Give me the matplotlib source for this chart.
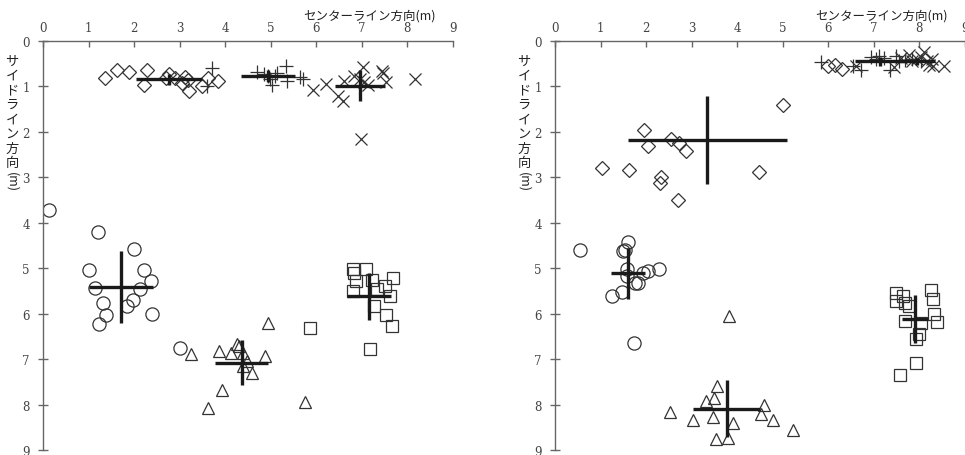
import numpy as np
import matplotlib.pyplot as plt

# 軸ラベル
x_label = 'センターライン方向(m)'
y_label_chars = ['サ', 'イ', 'ド', 'ラ', 'イ', 'ン', '方', '向']
y_label_unit = '(m)'
ticks = [0, 1, 2, 3, 4, 5, 6, 7, 8, 9]

# ---- 左図 ----
L_dia_x = [1.36, 1.63, 1.90, 2.28, 2.22, 2.70, 2.77, 2.90, 3.11, 3.06, 3.19, 3.21, 3.50, 3.62, 3.85]
L_dia_y = [0.81, 0.64, 0.69, 0.64, 0.96, 0.81, 0.73, 0.81, 0.79, 0.93, 0.86, 1.09, 0.99, 0.81, 0.89]
L_plus_x = [3.72, 3.60, 4.70, 4.85, 4.95, 4.99, 5.03, 5.10, 5.15, 5.34, 5.37, 5.65, 5.72]
L_plus_y = [0.60, 0.98, 0.68, 0.72, 0.76, 0.84, 0.97, 0.78, 0.70, 0.55, 0.88, 0.80, 0.84]
L_x_x = [5.93, 6.23, 6.49, 6.59, 6.62, 6.84, 6.97, 7.03, 7.05, 7.15, 7.44, 7.47, 7.54, 8.18, 6.98]
L_x_y = [1.07, 0.95, 1.20, 1.31, 0.87, 0.76, 0.84, 0.58, 0.91, 0.97, 0.65, 0.70, 0.91, 0.84, 2.16]
L_cir_x = [0.14, 1.20, 2.01, 1.00, 2.21, 2.37, 1.14, 2.14, 1.31, 1.97, 1.85, 1.38, 2.39, 1.24, 3.00]
L_cir_y = [3.72, 4.21, 4.58, 5.04, 5.04, 5.29, 5.43, 5.45, 5.76, 5.70, 5.84, 6.04, 6.00, 6.23, 6.75]
L_tri_x = [3.25, 3.63, 3.87, 3.94, 4.13, 4.27, 4.30, 4.39, 4.40, 4.49, 4.59, 4.89, 4.94, 5.76]
L_tri_y = [6.88, 8.07, 6.82, 7.69, 6.86, 6.67, 6.72, 6.87, 7.15, 7.04, 7.30, 6.93, 6.21, 7.94]
L_sq_x = [6.81, 6.84, 7.10, 6.88, 7.22, 7.69, 7.52, 6.81, 7.63, 7.27, 7.54, 7.67, 7.19, 7.35, 5.87]
L_sq_y = [5.02, 5.11, 5.01, 5.28, 5.26, 5.21, 5.39, 5.50, 5.62, 5.83, 6.03, 6.28, 6.78, 5.45, 6.31]
# 平均 ± 標準偏差 (◇, +, ×, ○, △, □)
L_mean_x = [2.77, 4.95, 6.97, 1.71, 4.37, 7.17]
L_mean_y = [0.84, 0.77, 0.98, 5.42, 7.08, 5.62]
L_sd_x = [0.73, 0.59, 0.55, 0.70, 0.58, 0.48]
L_sd_y = [0.12, 0.13, 0.35, 0.79, 0.49, 0.52]

# ---- 右図 ----
R_dia_x = [1.03, 1.63, 1.96, 2.05, 2.34, 2.31, 2.54, 2.72, 2.89, 2.71, 4.48, 5.02, 6.01, 6.15, 6.30]
R_dia_y = [2.80, 2.83, 1.95, 2.31, 3.00, 3.13, 2.16, 2.25, 2.42, 3.50, 2.89, 1.41, 0.56, 0.53, 0.62]
R_plus_x = [5.84, 6.55, 6.72, 6.95, 7.05, 7.12, 7.22, 7.36, 7.50, 7.55, 7.70, 7.85, 8.05]
R_plus_y = [0.46, 0.55, 0.63, 0.35, 0.40, 0.33, 0.38, 0.63, 0.32, 0.45, 0.42, 0.40, 0.45]
R_x_x = [6.62, 7.44, 7.60, 7.78, 7.85, 7.95, 8.05, 8.10, 8.18, 8.22, 8.28, 8.31, 8.55]
R_x_y = [0.55, 0.58, 0.38, 0.30, 0.45, 0.40, 0.35, 0.25, 0.45, 0.52, 0.40, 0.55, 0.54]
R_cir_x = [0.56, 1.61, 1.50, 1.53, 1.58, 1.58, 1.93, 2.04, 2.29, 1.76, 1.83, 1.48, 1.25, 1.74]
R_cir_y = [4.60, 4.42, 4.62, 4.60, 5.01, 5.18, 5.10, 5.06, 5.02, 5.32, 5.33, 5.52, 5.62, 6.64]
R_tri_x = [2.53, 3.04, 3.32, 3.47, 3.49, 3.55, 3.54, 3.81, 3.91, 3.83, 4.59, 4.53, 4.80, 5.22]
R_tri_y = [8.16, 8.33, 7.92, 8.27, 7.86, 7.59, 8.75, 8.73, 8.41, 6.05, 8.01, 8.20, 8.33, 8.55]
R_sq_x = [7.49, 7.49, 7.64, 7.69, 7.77, 8.26, 8.30, 8.33, 8.40, 7.69, 8.04, 8.01, 7.93, 7.93, 7.58]
R_sq_y = [5.55, 5.72, 5.61, 5.77, 5.84, 5.48, 5.67, 6.01, 6.18, 6.16, 6.21, 6.45, 6.55, 7.08, 7.35]
R_mean_x = [3.35, 7.15, 7.95, 1.61, 3.77, 7.91]
R_mean_y = [2.17, 0.45, 0.45, 5.11, 8.09, 6.12]
R_sd_x = [1.75, 0.55, 0.40, 0.37, 0.73, 0.29]
R_sd_y = [0.97, 0.10, 0.08, 0.56, 0.63, 0.53]

ink = '#333333'
jp_font = ['Noto Sans CJK JP', 'DejaVu Sans']


def draw_panel(fig, rect, series, mx, my, sx, sy):
    ax = fig.add_axes(rect)
    styles = [('D', 7, 0.9), ('+', 10, 0.9), ('x', 9, 0.9),
              ('o', 9.5, 0.9), ('^', 9, 0.9), ('s', 9, 0.9)]
    for (xs, ys), (m, ms, lw) in zip(series, styles):
        ax.plot(xs, ys, linestyle='none', marker=m, markersize=ms,
                markerfacecolor='none', markeredgecolor=ink, markeredgewidth=lw)
    ax.errorbar(mx, my, xerr=sx, yerr=sy, fmt='none', ecolor='#1a1a1a',
                elinewidth=2.4, capsize=0)
    ax.set_xlim(0, 9)
    ax.set_ylim(9, 0)
    ax.set_xticks(ticks)
    ax.set_yticks(ticks)
    ax.xaxis.tick_top()
    for s in ['right', 'bottom']:
        ax.spines[s].set_visible(False)
    for s in ['top', 'left']:
        ax.spines[s].set_color('#666666')
        ax.spines[s].set_linewidth(1.0)
    ax.tick_params(axis='x', direction='in', length=4, width=1, color='#666666',
                   pad=5, labelsize=8.5, labelcolor='#444444')
    ax.tick_params(axis='y', direction='inout', length=7, width=1, color='#666666',
                   pad=6, labelsize=8.5, labelcolor='#444444')
    for lab in ax.get_xticklabels() + ax.get_yticklabels():
        lab.set_family('DejaVu Serif')
    ax.patch.set_alpha(0)
    return ax


fig = plt.figure(figsize=(9.65, 4.56), dpi=100)
W, H = 965.0, 456.0

left_series = [(L_dia_x, L_dia_y), (L_plus_x, L_plus_y), (L_x_x, L_x_y),
               (L_cir_x, L_cir_y), (L_tri_x, L_tri_y), (L_sq_x, L_sq_y)]
right_series = [(R_dia_x, R_dia_y), (R_plus_x, R_plus_y), (R_x_x, R_x_y),
                (R_cir_x, R_cir_y), (R_tri_x, R_tri_y), (R_sq_x, R_sq_y)]

for x0, series, mx, my, sx, sy in [(43, left_series, L_mean_x, L_mean_y, L_sd_x, L_sd_y),
                                   (555, right_series, R_mean_x, R_mean_y, R_sd_x, R_sd_y)]:
    draw_panel(fig, [x0 / W, 1 - 451 / H, 409.5 / W, 409 / H], series, mx, my, sx, sy)
    # 上の軸ラベル
    fig.text((x0 + 393) / W, 1 - 16 / H, x_label, family=jp_font, fontsize=9,
             color='#222222', ha='right', va='center')
    # 縦書きの軸ラベル
    for i, ch in enumerate(y_label_chars):
        fig.text((x0 - 31) / W, 1 - (62 + i * 14.5) / H, ch, family=jp_font,
                 fontsize=9.5, color='#222222', ha='center', va='center')
    fig.text((x0 - 31) / W, 1 - 182 / H, y_label_unit, family=jp_font, fontsize=9,
             color='#222222', ha='center', va='center', rotation=-90)

fig.savefig('out.png', dpi=100)
